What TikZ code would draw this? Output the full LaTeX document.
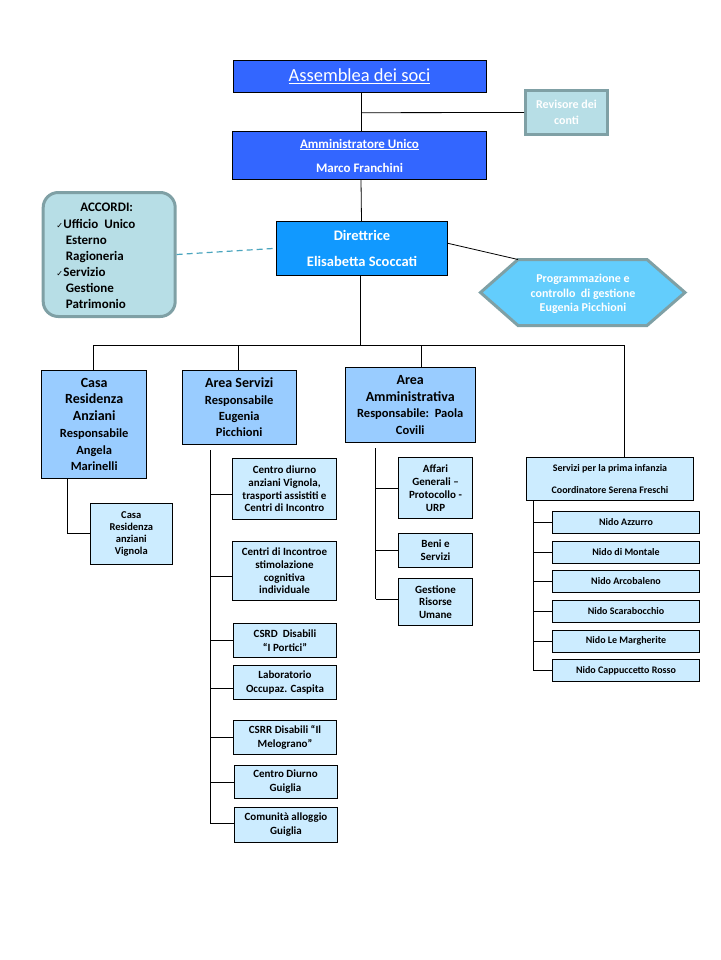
\documentclass[tikz,border=0pt]{standalone}
\usepackage{fontspec}
\setmainfont{Carlito}
\newfontfamily\symfont{DejaVu Sans}
\usetikzlibrary{calc}
\definecolor{asmblue}{RGB}{51,102,255}
\definecolor{dirblue}{RGB}{17,153,255}
\definecolor{areablue}{RGB}{153,204,255}
\definecolor{subblue}{RGB}{204,236,255}
\definecolor{hexcyan}{RGB}{99,205,252}
\definecolor{tealfill}{RGB}{183,222,230}
\definecolor{tealedge}{RGB}{127,160,165}
\definecolor{dashteal}{RGB}{75,165,190}
\newcommand\fs[2]{\fontsize{#1}{#2}\selectfont}
\newcommand\ck{{\symfont\fs{8}{8}✓}\hspace{0.3pt}}
\begin{document}
\begin{tikzpicture}[x=1pt,y=-1pt,
  box/.style={draw=black, line width=0.8pt, inner sep=0pt, align=center},
  topbox/.style={box, fill=asmblue, text=white},
  areabox/.style={box, fill=areablue},
  subbox/.style={box, fill=subblue, font=\bfseries\fs{11}{13}},
  nidobox/.style={box, fill=subblue, font=\bfseries\fs{10}{12}, minimum width=147pt, minimum height=22pt},
  tealbox/.style={draw=tealedge, line width=3pt, fill=tealfill, inner sep=0pt, align=center},
  conn/.style={draw=black, line width=0.8pt},
  dashconn/.style={draw=dashteal, line width=1.2pt, dash pattern=on 6pt off 4pt}]
\fill[white] (0,0) rectangle (720,960);
\useasboundingbox (0,0) rectangle (720,960);

% top
\node[topbox, minimum width=253pt, minimum height=32pt, font=\fs{18.5}{22}] (asm) at (359.5,76.3) {\underline{Assemblea dei soci}};
\node[topbox, minimum width=254pt, minimum height=48pt, font=\bfseries\fs{13}{24}] (adm) at (359.5,155.5) {\underline{Amministratore Unico}\\Marco Franchini};
\node[tealbox, text=white, minimum width=82pt, minimum height=44pt, font=\bfseries\fs{12}{16}] (rev) at (566.5,112.5) {Revisore dei\\conti};
\node[box, fill=dirblue, text=white, minimum width=171pt, minimum height=54pt, font=\bfseries\fs{14.5}{26}] (dir) at (362,248.3) {Direttrice\\Elisabetta Scoccati};

% hexagon
\coordinate (hextl) at (518,259.5);
\draw[draw=tealedge, line width=3pt, fill=hexcyan] (480.5,292.5) -- (hextl) -- (647,259.5) -- (685,292.5) -- (647,325.5) -- (518,325.5) -- cycle;
\node[align=center, text=white, inner sep=0pt, font=\bfseries\fs{12}{14.5}] (hex) at (583,294) {Programmazione e\\controllo\ \ di gestione\\Eugenia Picchioni};

% accordi
\node[tealbox, rounded corners=15pt, minimum width=132pt, minimum height=124pt] (acc) at (109.2,254.5) {};
\node[inner sep=0pt, font=\bfseries\fs{13}{16}] (acct) at (106.7,207.7) {ACCORDI:};
\node[inner sep=0pt, align=left, anchor=west, font=\bfseries\fs{13}{16}] (accl) at (56.2,263.5) {\ck Ufficio\ \ Unico\\\hspace*{9.5pt}Esterno\\\hspace*{9.5pt}Ragioneria\\\ck Servizio\\\hspace*{9.5pt}Gestione\\\hspace*{9.5pt}Patrimonio};

% level 2
\node[areabox, minimum width=105pt, minimum height=108pt, font=\bfseries\fs{14}{16.7}] (casa) at (94.2,424.5) {Casa\\Residenza\\Anziani\\{\fs{12.5}{16}Responsabile}\\{\fs{12.5}{16}Angela}\\{\fs{12.5}{16}Marinelli}};
\node[areabox, minimum width=114pt, minimum height=74pt, font=\bfseries\fs{14}{16.3}] (serv) at (239.2,407.5) {Area Servizi\\{\fs{12.5}{16}Responsabile}\\{\fs{12.5}{16}Eugenia}\\{\fs{12.5}{16}Picchioni}};
\node[areabox, minimum width=130pt, minimum height=75pt, font=\bfseries\fs{14}{16.7}] (amm) at (410.2,405) {Area\\Amministrativa\\{\fs{12.5}{16}Responsabile:\ \ Paola}\\{\fs{12.5}{16}Covili}};
\node[subbox, minimum width=167pt, minimum height=43pt, font=\bfseries\fs{10}{22}] (inf) at (610,479) {Servizi per la prima infanzia\\Coordinatore Serena Freschi};

% casa child
\node[subbox, minimum width=82pt, minimum height=61pt, font=\bfseries\fs{10.5}{12}] (vig) at (131.3,533.5) {Casa\\Residenza\\anziani\\Vignola};

% area servizi children
\node[subbox, minimum width=104pt, minimum height=61pt, font=\bfseries\fs{11}{12.7}] (cd1) at (284.5,489) {Centro diurno\\anziani Vignola,\\trasporti assistiti e\\Centri di Incontro};
\node[subbox, minimum width=104pt, minimum height=59pt, font=\bfseries\fs{11}{12.7}] (cd2) at (284.5,571) {Centri di Incontroe\\stimolazione\\cognitiva\\individuale};
\node[subbox, minimum width=103pt, minimum height=34pt, font=\bfseries\fs{11}{14}] (csrd) at (285,640.5) {CSRD\ \ Disabili\\“I Portici”};
\node[subbox, minimum width=103pt, minimum height=34pt, font=\bfseries\fs{11}{14}] (lab) at (285,682.5) {Laboratorio\\Occupaz. Caspita};
\node[subbox, minimum width=103pt, minimum height=34pt, font=\bfseries\fs{11}{14}] (csrr) at (285,737.5) {CSRR Disabili “Il\\Melograno”};
\node[subbox, minimum width=103pt, minimum height=33pt, font=\bfseries\fs{11}{14}] (cdg) at (285.5,782) {Centro Diurno\\Guiglia};
\node[subbox, minimum width=103pt, minimum height=35pt, font=\bfseries\fs{11}{14}] (com) at (286,825) {Comunità alloggio\\Guiglia};

% area amministrativa children
\node[subbox, minimum width=74pt, minimum height=61pt, font=\bfseries\fs{11}{13}] (aff) at (435.5,488) {Affari\\Generali –\\Protocollo -\\URP};
\node[subbox, minimum width=74pt, minimum height=34pt, font=\bfseries\fs{11}{13}] (beni) at (435.5,550.5) {Beni e\\Servizi};
\node[subbox, minimum width=74pt, minimum height=47pt, font=\bfseries\fs{11}{12.7}] (gest) at (435.5,602) {Gestione\\Risorse\\Umane};

% nidi
\node[nidobox] (n1) at (626,522) {Nido Azzurro};
\node[nidobox] (n2) at (626,552) {Nido di Montale};
\node[nidobox] (n3) at (626,581.5) {Nido Arcobaleno};
\node[nidobox] (n4) at (626,611.5) {Nido Scarabocchio};
\node[nidobox] (n5) at (626,641) {Nido Le Margherite};
\node[nidobox] (n6) at (626,670.5) {Nido Cappuccetto Rosso};

% connectors top
\coordinate (rj) at (361,112.7);
\draw[conn] ([xshift=1.5pt]asm.south) -- ([xshift=1.5pt]adm.north);
\draw[conn] (rj) -- (rev.west);
\draw[conn] ([xshift=1.5pt]adm.south) -- ([xshift=-0.5pt]dir.north);
\draw[conn] ([yshift=5pt]dir.east) -- (hextl);
\draw[dashconn] (acc.east) -- (dir.west);

% bus
\coordinate (bus) at (360,345);
\draw[conn] ([xshift=-2pt]dir.south) -- (bus);
\draw[conn] ([xshift=-0.8pt]casa.north) |- (bus);
\draw[conn] ([xshift=-0.8pt]serv.north) |- (bus);
\draw[conn] ([xshift=11.5pt]amm.north) |- (bus);
\draw[conn] ([xshift=14pt]inf.north) |- (bus);

% casa -> vignola
\draw[conn] ([xshift=-26.5pt]casa.south) |- (vig.west);

% area servizi trunk
\coordinate (svtop) at (210,450);
\coordinate (svbot) at (210,823);
\draw[conn] (svtop) -- (svbot);
\draw[conn] ([yshift=-5pt]cd1.west) -- ([yshift=-5pt]cd1.west -| svtop);
\draw[conn] ([yshift=-5pt]cd2.west) -- ([yshift=-5pt]cd2.west -| svtop);
\draw[conn] (csrd.west) -- (csrd.west -| svtop);
\draw[conn] ([yshift=-6pt]lab.west) -- ([yshift=-6pt]lab.west -| svtop);
\draw[conn] (csrr.west) -- (csrr.west -| svtop);
\draw[conn] (cdg.west) -- (cdg.west -| svtop);
\draw[conn] ([yshift=2pt]com.west) -- ([yshift=2pt]com.west -| svtop);

% area amministrativa trunk
\coordinate (amtop) at (375.5,448);
\coordinate (ambot) at (375.5,599);
\draw[conn] (amtop) -- (ambot);
\draw[conn] (aff.west) -- (aff.west -| amtop);
\draw[conn] (beni.west) -- (beni.west -| amtop);
\draw[conn] ([yshift=3pt]gest.west) -- ([yshift=3pt]gest.west -| amtop);

% infanzia trunk
\coordinate (inftrunk) at (533,670.5);
\draw[conn] (inf.south -| inftrunk) -- (inftrunk);
\foreach \n in {n1,n2,n3,n4,n5,n6} {\draw[conn] (\n.west) -- (\n.west -| inftrunk);}
\end{tikzpicture}
\end{document}
